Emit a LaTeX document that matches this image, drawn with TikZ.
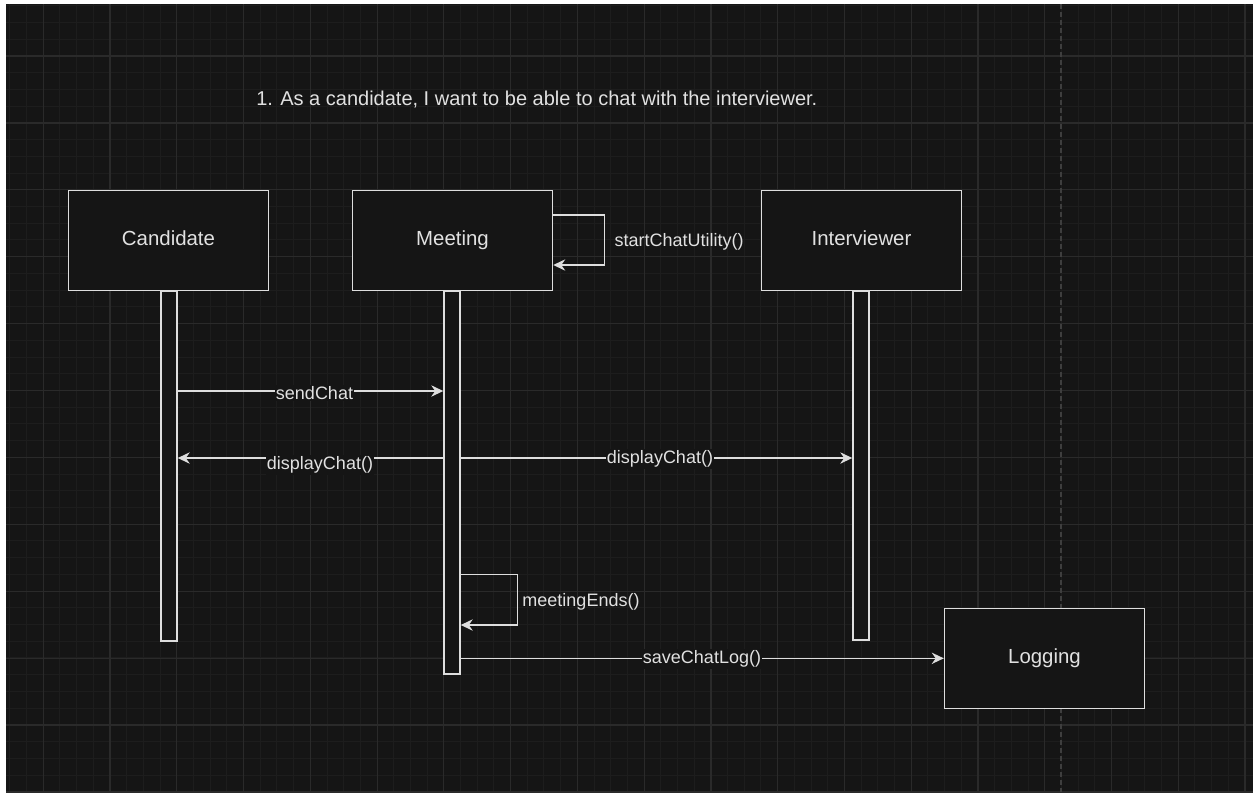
\documentclass[tikz,border=0pt]{standalone}
\usepackage{fontspec}
\setmainfont{Liberation Sans}
\usetikzlibrary{arrows.meta}
\definecolor{bgc}{RGB}{21,21,21}
\definecolor{gridminor}{RGB}{29,29,29}
\definecolor{gridmajor}{RGB}{42,42,42}
\definecolor{strokec}{RGB}{222,222,222}
\definecolor{textc}{RGB}{225,225,225}
\definecolor{pagebrk}{RGB}{62,62,62}
\tikzset{
  actor/.style={draw=strokec, line width=1.1pt, fill=bgc, minimum width=150pt, minimum height=75pt, inner sep=0pt, text=textc, text height=0.93em, text depth=0.2em, font=\fontsize{15.3}{18}\selectfont},
  life/.style={draw=strokec, line width=1.1pt, fill=bgc, minimum width=12pt, inner sep=0pt},
  msg/.style={draw=strokec, line width=1.1pt, -{Stealth[length=9pt,width=8.5pt]}},
  lbl/.style={fill=bgc, text=textc, inner sep=1pt, font=\fontsize{13.5}{16}\selectfont},
}
\begin{document}
\begin{tikzpicture}[x=0.75pt,y=-0.75pt]
\useasboundingbox (0,0) rectangle (1253,794);
\fill[white] (0,0) rectangle (1253,794);
\fill[bgc] (6,4) rectangle (1253,792);
\begin{scope}
\clip (6,4) rectangle (1253,792);
% minor grid
\foreach \i in {0,...,76} {
  \draw[gridminor, line width=0.75pt] ({9.9+\i*16.69},4) -- ({9.9+\i*16.69},792);
}
\foreach \j in {0,...,48} {
  \draw[gridminor, line width=0.75pt] (6,{5.9+\j*16.72}) -- (1253,{5.9+\j*16.72});
}
% major grid
\foreach \i in {0,...,18} {
  \draw[gridmajor, line width=0.9pt] ({43.3+\i*66.76},4) -- ({43.3+\i*66.76},792);
}
\foreach \j in {0,...,11} {
  \draw[gridmajor, line width=0.9pt] (6,{56+\j*66.9}) -- (1253,{56+\j*66.9});
}
% page break
\draw[pagebrk, line width=0.9pt, dash pattern=on 4pt off 2pt] (1061,4) -- (1061,792);
\end{scope}

% title
\node[anchor=west, text=textc, inner sep=0pt, font=\fontsize{15}{18}\selectfont] (title) at (256,100) {1. As a candidate, I want to be able to chat with the interviewer.};

% lifelines
\node[life, minimum height=262.5pt] (cl) at (169,466) {};
\node[life, minimum height=287.25pt] (ml) at (452,482.5) {};
\node[life, minimum height=261.75pt] (il) at (861,465.5) {};

% actors
\node[actor] (cand) at (168.5,240.5) {Candidate};
\node[actor] (meet) at (452.5,240.5) {Meeting};
\node[actor] (intv) at (861.5,240.5) {Interviewer};
\node[actor] (logg) at (1044.5,658.3) {Logging};

% helper rows
\coordinate (r0a) at (0,215);
\coordinate (r0b) at (0,265);
\coordinate (r0x) at (604.3,0);
\coordinate (r1) at (0,391);
\coordinate (r2) at (0,458);
\coordinate (r3a) at (0,574.3);
\coordinate (r3b) at (0,625);
\coordinate (r3x) at (517.7,0);
\coordinate (r4) at (0,658.3);

% self message startChatUtility
\draw[msg] (meet.east |- r0a) -- (r0x |- r0a) -- (r0x |- r0b) -- (meet.east |- r0b);
\node[text=textc, inner sep=0pt, font=\fontsize{13.5}{16}\selectfont] (l0) at (679,242) {startChatUtility()};

% sendChat
\draw[msg] (cl.east |- r1) -- (ml.west |- r1);
\node[lbl] (l1) at (314.5,393) {sendChat};

% displayChat to candidate
\draw[msg] (ml.west |- r2) -- (cl.east |- r2);
\node[lbl] (l2) at (320,465) {displayChat()};

% displayChat to interviewer
\draw[msg] (ml.east |- r2) -- (il.west |- r2);
\node[lbl] (l3) at (660,459) {displayChat()};

% self message meetingEnds
\draw[msg] (ml.east |- r3a) -- (r3x |- r3a) -- (r3x |- r3b) -- (ml.east |- r3b);
\node[text=textc, inner sep=0pt, font=\fontsize{13.5}{16}\selectfont] (l4) at (581,602) {meetingEnds()};

% saveChatLog
\draw[msg] (ml.east |- r4) -- (logg.west |- r4);
\node[lbl] (l5) at (702,659) {saveChatLog()};
\end{tikzpicture}
\end{document}
